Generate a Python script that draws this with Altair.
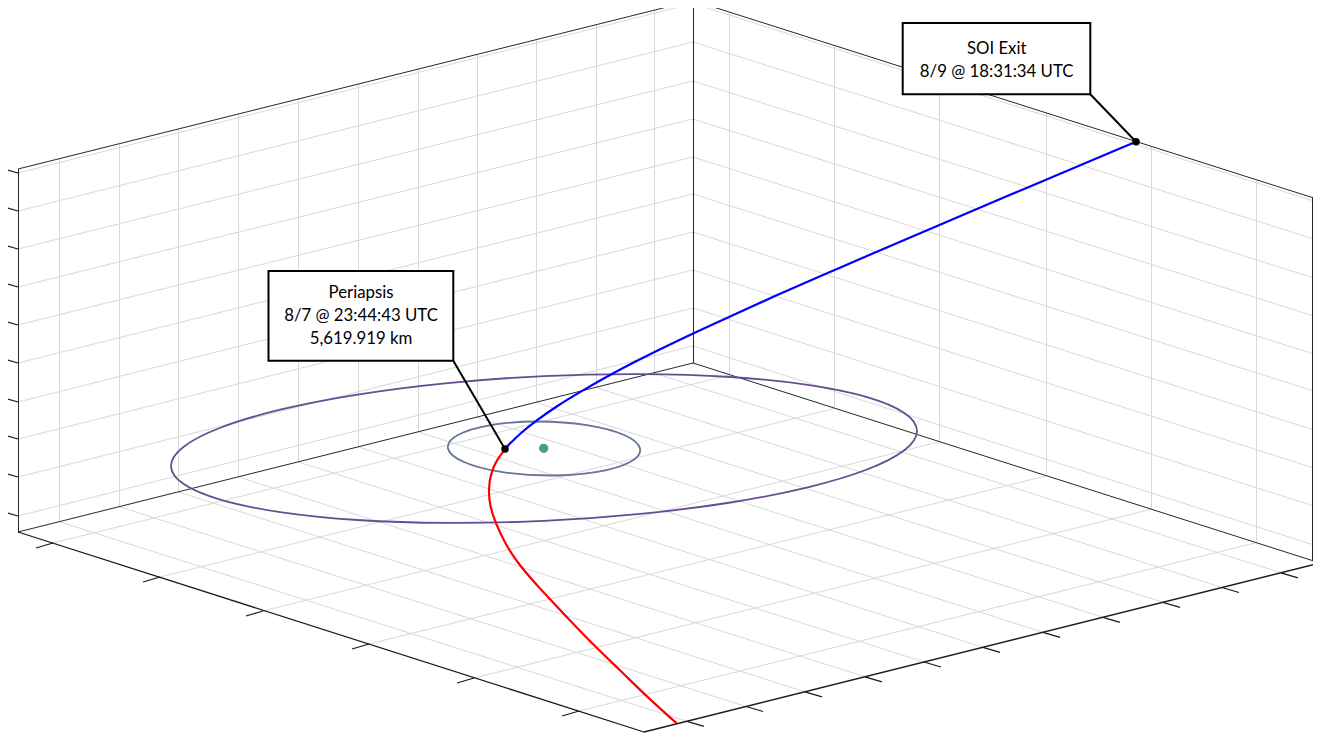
import altair as alt
import pandas as pd

# Visible part of the reference picture frame (page margin and window limit the plot area)
X0, X1, Y0, Y1 = 8, 1313, 8, 734

# Box edges, as (x1, y1, x2, y2)
back_edges = [
    (18, 169, 693, 0.5), (693, 0.5, 1320, 200),
    (18, 532, 693, 363), (693, 363, 1320, 563),
    (18.5, 169, 18.5, 532), (693.5, 0.5, 693.5, 363), (1312.5, 197.5, 1312.5, 561),
]
front_edges = [(18, 532, 644, 732), (644, 732, 1320, 563)]

# Wall horizontal gridlines, y at the left, back and right corners
wall_left_y = [173, 211, 249, 287, 325, 363, 402, 439, 477, 516]
wall_back_y = [3.5, 42, 81, 119, 157, 194, 232, 270, 308, 346]
wall_right_y = [203, 241, 280, 318, 356, 393, 432, 470, 508, 547]
corner_left_x, corner_back_x, corner_right_x = 18, 693, 1320

# Left wall vertical gridlines + floor lines running to the front-right edge
lw_x = [59.5, 119.5, 178.5, 238.5, 298.5, 358.5, 418.5, 477.5, 536.5, 596.5, 654.5]
lw_top = [158.8, 143.8, 129, 114, 99, 84, 69, 54.5, 39.7, 24.7, 10.3]
lw_bot = [521.8, 506.8, 492, 477, 462, 447, 432, 417.5, 402.7, 387.7, 373.3]
fr_x = [687, 746, 805, 865, 924, 983, 1043, 1103, 1163, 1222, 1281]
fr_y = [721.3, 706.5, 691.8, 676.8, 662, 647.3, 632.3, 617.3, 602.3, 587.5, 572.8]

# Right wall vertical gridlines + floor lines running to the front-left edge
rw_x = [729.5, 834.5, 939.5, 1046.5, 1151.5, 1256.5]
rw_top = [12, 45.4, 78.8, 112.8, 146.2, 179.6]
rw_bot = [375, 408.4, 441.8, 475.8, 509.2, 542.6]
fl_x = [53, 160, 263, 369, 474, 579]
fl_y = [543, 577, 611, 644, 678, 711]

# Curves
outer_x = [917, 904.3, 867, 807.8, 730.5, 640.5, 544, 447.5, 357.5, 280.2, 221, 183.7,
           171, 183.7, 221, 280.2, 357.5, 447.5, 544, 640.5, 730.5, 807.8, 867, 904.3]
outer_y = [431, 450.3, 469.5, 487.3, 502.5, 513.9, 520.9, 522.9, 520, 512.1, 499.9, 484.1,
           466, 446.7, 427.5, 409.7, 394.6, 383.1, 376.1, 374.1, 377, 384.9, 397.1, 412.9]
inner_x = [640, 630.1, 597.2, 550, 501.2, 463.9, 448, 457.9, 490.8, 538, 586.8, 624.1]
inner_y = [448.5, 462, 471.9, 475.5, 471.9, 462, 448.5, 435, 425.1, 421.5, 425.1, 435]
blue_x = [505, 508, 520, 537, 557, 580, 613, 650, 693.3, 729.3, 773.3, 834.3, 890, 1000, 1136]
blue_y = [449, 445.5, 433.5, 420, 406, 392, 373, 354, 333.3, 316.7, 296.7, 270, 246, 199, 141.7]
red_x = [505, 496.7, 490.7, 488.3, 490, 495.7, 505, 516.7, 535, 563.3, 596.7, 618.3, 646.7, 676.7]
red_y = [449.3, 460, 473.3, 490, 506.7, 523.3, 543.3, 561.7, 583.3, 613.3, 648.3, 668.3, 696.7, 723.3]

# Callouts
box_x = [268.5, 902.7]
box_x2 = [453.3, 1090.3]
box_y = [271, 23]
box_y2 = [360.7, 94.3]
leader_x = [453.3, 1090.3]
leader_y = [360.7, 94.3]
point_x = [505, 1136]
point_y = [449, 141.7]
moon_x = [543.7]
moon_y = [448.3]
label_text = ["Periapsis", "8/7 @ 23:44:43 UTC", "5,619.919 km", "SOI Exit", "8/9 @ 18:31:34 UTC"]
label_x = [361, 361, 361, 996.7, 996.7]
label_y = [293, 316, 339, 49, 72]

xs = alt.Scale(domain=[X0, X1], nice=False, zero=False)
ys = alt.Scale(domain=[Y1, Y0], nice=False, zero=False)


def rules(rows, color, width):
    df = pd.DataFrame(rows, columns=["x", "y", "x2", "y2"])
    return alt.Chart(df).mark_rule(color=color, strokeWidth=width, clip=True).encode(
        x=alt.X("x:Q", scale=xs, axis=None),
        y=alt.Y("y:Q", scale=ys, axis=None),
        x2="x2:Q",
        y2="y2:Q",
    )


def curve(x, y, color, width, interp):
    df = pd.DataFrame({"x": x, "y": y, "i": range(len(x))})
    return alt.Chart(df).mark_line(color=color, strokeWidth=width, interpolate=interp, clip=True).encode(
        x=alt.X("x:Q", scale=xs, axis=None),
        y=alt.Y("y:Q", scale=ys, axis=None),
        order="i:Q",
    )


def dots(x, y, color, size):
    df = pd.DataFrame({"x": x, "y": y})
    return alt.Chart(df).mark_circle(color=color, size=size, opacity=1, clip=True).encode(
        x=alt.X("x:Q", scale=xs, axis=None),
        y=alt.Y("y:Q", scale=ys, axis=None),
    )


grid_rows = []
for a, b, c in zip(wall_left_y, wall_back_y, wall_right_y):
    grid_rows.append((corner_left_x, a, corner_back_x, b))
    grid_rows.append((corner_back_x, b, corner_right_x, c))
for x, t, b, fx, fy in zip(lw_x, lw_top, lw_bot, fr_x, fr_y):
    grid_rows.append((x, t, x, b))
    grid_rows.append((x, b, fx, fy))
for x, t, b, fx, fy in zip(rw_x, rw_top, rw_bot, fl_x, fl_y):
    grid_rows.append((x, t, x, b))
    grid_rows.append((x, b, fx, fy))

tick_rows = []
for y in wall_left_y:
    tick_rows.append((corner_left_x, y, corner_left_x - 17, y - 5))
for x, y in zip(fr_x, fr_y):
    tick_rows.append((x, y, x + 17, y + 5))
for x, y in zip(fl_x, fl_y):
    tick_rows.append((x, y, x - 17, y + 5))

grid = rules(grid_rows, "#d8d8d8", 1)
edges = rules(back_edges, "#262626", 1)
edges_front = rules(front_edges, "#1a1a1a", 1.3)
ticks = rules(tick_rows, "#1a1a1a", 1.3)

outer = curve(outer_x, outer_y, "#6a4a94", 1.8, "cardinal-closed")
inner = curve(inner_x, inner_y, "#67749a", 1.8, "cardinal-closed")
blue = curve(blue_x, blue_y, "#0000ff", 2.2, "basis")
red = curve(red_x, red_y, "#ff0000", 2.2, "basis")

leaders = rules(list(zip(leader_x, leader_y, point_x, point_y)), "#000000", 2)

boxes = alt.Chart(pd.DataFrame({"x": box_x, "x2": box_x2, "y": box_y, "y2": box_y2})).mark_rect(
    fill="#ffffff", stroke="#000000", strokeWidth=2, clip=True
).encode(
    x=alt.X("x:Q", scale=xs, axis=None),
    x2="x2:Q",
    y=alt.Y("y:Q", scale=ys, axis=None),
    y2="y2:Q",
)

labels = alt.Chart(pd.DataFrame({"t": label_text, "x": label_x, "y": label_y})).mark_text(
    font="Lato", fontSize=16.8, color="#000000", align="center", baseline="middle"
).encode(
    x=alt.X("x:Q", scale=xs, axis=None),
    y=alt.Y("y:Q", scale=ys, axis=None),
    text="t:N",
)

chart = alt.layer(
    grid, edges, edges_front, ticks, outer, inner, dots(moon_x, moon_y, "#469c92", 85), red, blue,
    leaders, boxes, labels, dots(point_x, point_y, "#000000", 56),
).properties(
    width=X1 - X0, height=Y1 - Y0, padding=0, background="#ffffff"
).configure_view(stroke=None)

chart.save("out.html", embed_options={"renderer": "svg", "actions": False})
